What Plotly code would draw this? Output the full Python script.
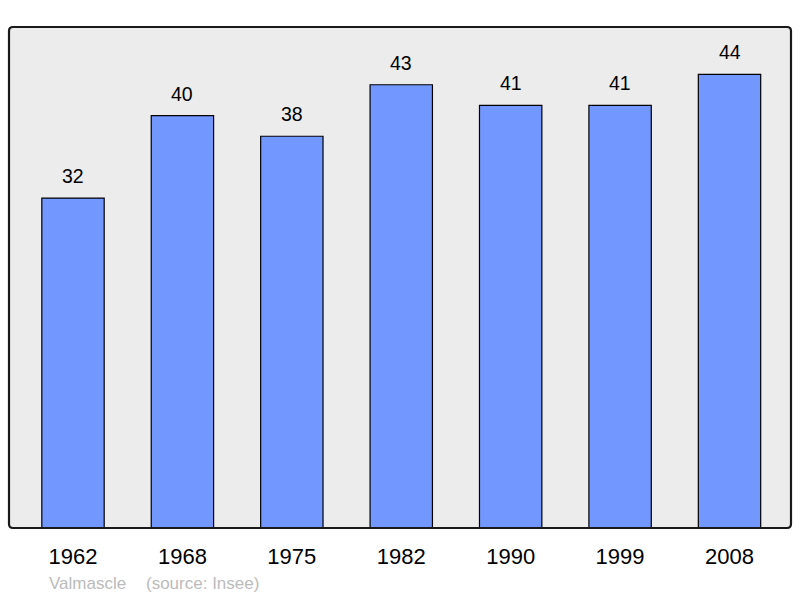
import plotly.graph_objects as go

years = ["1962", "1968", "1975", "1982", "1990", "1999", "2008"]
population = [32, 40, 38, 43, 41, 41, 44]
place = "Valmascle"
source = "(source: Insee)"

W, H = 800, 598
L, R, T, B = 9, 9, 27, 70
FONT = "Liberation Sans, Arial, sans-serif"

fig = go.Figure()
fig.add_trace(go.Bar(
    x=list(range(len(years))), y=population,
    width=0.57,
    marker=dict(color="#7297ff", line=dict(color="#000000", width=1.2)),
    hoverinfo="skip",
))

for i, v in enumerate(population):
    fig.add_annotation(x=i, y=v, text=str(v), showarrow=False,
                       yanchor="bottom", yshift=9,
                       font=dict(family=FONT, size=19.5, color="#000"))

pw, ph = W - L - R, H - T - B
fig.add_annotation(xref="paper", yref="paper", x=(47 - L) / pw, y=-(583 - (H - B)) / ph,
                   xanchor="left", yanchor="middle", showarrow=False, text=place,
                   font=dict(family=FONT, size=17, color="#bbbbbb"))
fig.add_annotation(xref="paper", yref="paper", x=(144 - L) / pw, y=-(583 - (H - B)) / ph,
                   xanchor="left", yanchor="middle", showarrow=False, text=source,
                   font=dict(family=FONT, size=17, color="#bbbbbb"))

# rounded frame
rx, ry = 4 / pw, 4 / ph
path = (f"M {rx},0 L {1-rx},0 Q 1,0 1,{ry} L 1,{1-ry} Q 1,1 {1-rx},1 "
        f"L {rx},1 Q 0,1 0,{1-ry} L 0,{ry} Q 0,0 {rx},0 Z")
fig.add_shape(type="path", xref="paper", yref="paper", path=path,
              line=dict(color="#1a1a1a", width=2.2), layer="above")

fig.update_layout(
    width=W, height=H,
    margin=dict(l=L, r=R, t=T, b=B),
    paper_bgcolor="#ffffff", plot_bgcolor="#ececec",
    showlegend=False,
    xaxis=dict(range=[-0.585, 6.562], tickmode="array",
               tickvals=list(range(len(years))), ticktext=years,
               showgrid=False, zeroline=False, showline=False, ticks="",
               ticklabelstandoff=13,
               tickfont=dict(family=FONT, size=22, color="#000")),
    yaxis=dict(range=[0, 48.6], showgrid=False, zeroline=False,
               showticklabels=False, ticks="", showline=False),
)

fig.write_html("out.html", config={"displayModeBar": False},
               post_script="document.body.style.margin='0';document.body.style.overflow='hidden';")
